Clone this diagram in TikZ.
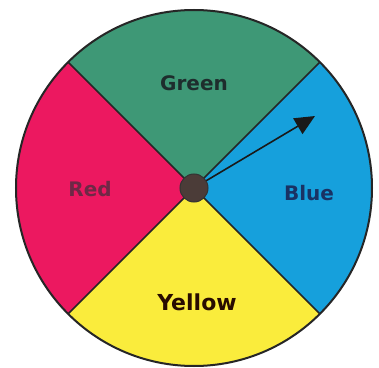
\documentclass[tikz,border=0pt]{standalone}
\usepackage{fontspec}
\setmainfont{DejaVu Sans}
\usetikzlibrary{arrows.meta}
\definecolor{cgreen}{RGB}{62,152,118}
\definecolor{cred}{RGB}{236,24,96}
\definecolor{cblue}{RGB}{22,160,220}
\definecolor{cyellow}{RGB}{250,236,60}
\definecolor{tgreen}{RGB}{30,45,45}
\definecolor{tred}{RGB}{110,40,70}
\definecolor{tblue}{RGB}{25,50,100}
\definecolor{tyellow}{RGB}{40,12,0}
\definecolor{hubcol}{RGB}{75,60,56}
\tikzset{
  lbl/.style={font=\bfseries\fontsize{20bp}{24bp}\selectfont, inner sep=0pt},
  divider/.style={draw=black!85, line width=1.6bp},
}
\begin{document}
\begin{tikzpicture}[x=1bp,y=1bp]
\useasboundingbox (0,0) rectangle (379,368);
\fill[white] (0,0) rectangle (379,368);
\coordinate (c) at (194,180);
\def\R{178bp}
\fill[cyellow] (c) -- ++(225:\R) arc[start angle=225,end angle=315,radius=\R] -- cycle;
\fill[cblue] (c) -- ++(-45:\R) arc[start angle=-45,end angle=45,radius=\R] -- cycle;
\fill[cgreen] (c) -- ++(45:\R) arc[start angle=45,end angle=135,radius=\R] -- cycle;
\fill[cred] (c) -- ++(135:\R) arc[start angle=135,end angle=225,radius=\R] -- cycle;
\draw[divider] (c) -- ++(45:\R);
\draw[divider] (c) -- ++(135:\R);
\draw[divider] (c) -- ++(225:\R);
\draw[divider] (c) -- ++(315:\R);
\draw[black!85, line width=2bp] (c) circle[radius=\R];
\node[lbl, text=tgreen] (green) at (194,285) {Green};
\node[lbl, text=tred] (red) at (90,179) {Red};
\node[lbl, text=tblue] (blue) at (309,175) {Blue};
\node[lbl, text=tyellow, font=\bfseries\fontsize{22bp}{26bp}\selectfont] (yellow) at (197,66) {Yellow};
\coordinate (tip) at (315,252);
\draw[black!90, line width=1.6bp, -{Triangle[length=20bp,width=18bp]}] (c) -- (tip);
\node[circle, fill=hubcol, draw=black!80, line width=1bp, minimum size=28bp, inner sep=0pt] (hub) at (c) {};
\end{tikzpicture}
\end{document}
